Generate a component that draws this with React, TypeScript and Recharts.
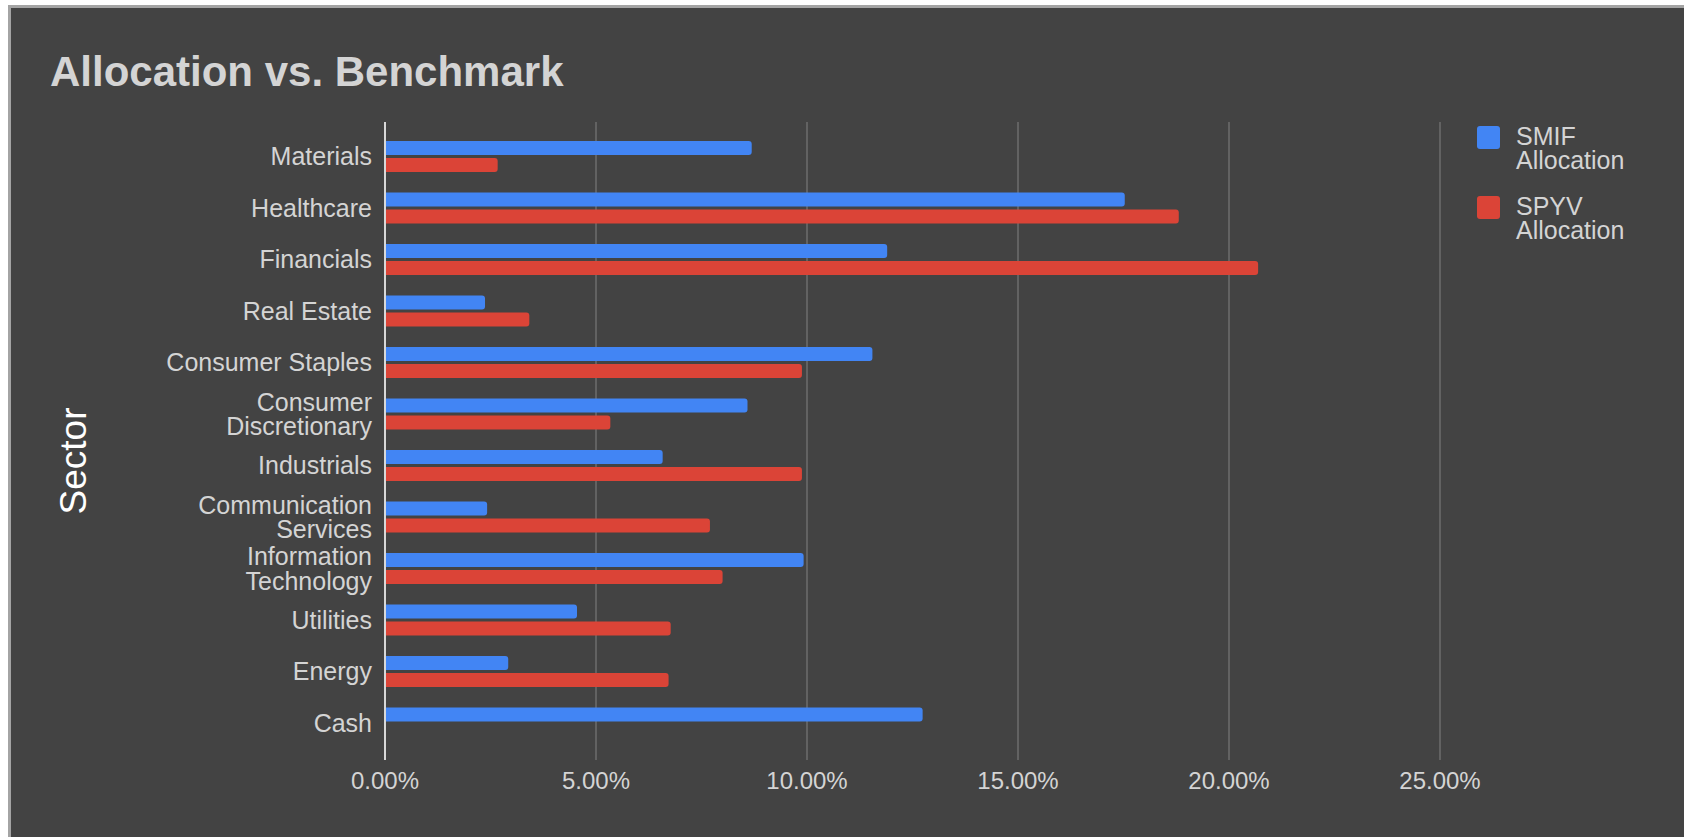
import React from "react";
import {
  BarChart,
  Bar,
  XAxis,
  YAxis,
  CartesianGrid,
  Legend,
} from "recharts";

// sector names, top to bottom
const sectors = [
  "Materials",
  "Healthcare",
  "Financials",
  "Real Estate",
  "Consumer Staples",
  "Consumer Discretionary",
  "Industrials",
  "Communication Services",
  "Information Technology",
  "Utilities",
  "Energy",
  "Cash",
];

// allocations in percent
const smifAllocation = [8.69, 17.53, 11.9, 2.37, 11.55, 8.59, 6.58, 2.42, 9.92, 4.55, 2.92, 12.74];
const spyvAllocation = [2.67, 18.81, 20.69, 3.42, 9.88, 5.34, 9.88, 7.7, 8.0, 6.77, 6.72, 0];

const xTicks = [0, 5, 10, 15, 20, 25];

const data = sectors.map((s, i) => ({
  sector: s,
  smif: smifAllocation[i],
  spyv: spyvAllocation[i],
}));

const FONT = "'Liberation Sans', Arial, sans-serif";
const BG = "#434343";
const TEXT = "#d4d4d4";

const SectorTick = (props: any) => {
  const { x, y, payload } = props;
  const label: string = payload.value;
  // long labels wrap onto two lines like the original
  const lines = label.length > 16 ? label.split(" ") : [label];
  const lh = 24.5;
  const base = y + 8.5 - ((lines.length - 1) * lh) / 2;
  return (
    <text
      x={x}
      y={base}
      textAnchor="end"
      fill={TEXT}
      fontSize={25}
      fontFamily={FONT}
    >
      {lines.map((l, i) => (
        <tspan key={i} x={x} y={base + i * lh}>
          {l}
        </tspan>
      ))}
    </text>
  );
};

const LegendBox = (props: any) => {
  const { payload } = props;
  return (
    <div style={{ fontFamily: FONT }}>
      {(payload || []).map((p: any, i: number) => (
        <div
          key={i}
          style={{ display: "flex", alignItems: "flex-start", height: 70 }}
        >
          <div
            style={{
              width: 23,
              height: 23,
              marginTop: 2,
              borderRadius: 3,
              background: p.color,
              flexShrink: 0,
            }}
          />
          <div
            style={{
              marginLeft: 16,
              width: 130,
              fontSize: 25,
              lineHeight: "24px",
              color: TEXT,
            }}
          >
            {p.value}
          </div>
        </div>
      ))}
    </div>
  );
};

export default function App() {
  return (
    <>
      <div
        style={{
          position: "fixed",
          left: 8,
          top: 5,
          width: 1676,
          height: 832,
          background: BG,
          borderTop: "3px solid #a4a4a4",
          borderLeft: "3px solid #a4a4a4",
          boxSizing: "border-box",
        }}
      />
      <div style={{ position: "fixed", left: 0, top: 0, width: 1684, height: 837 }}>
        <svg
          width={1684}
          height={837}
          style={{ position: "absolute", left: 0, top: 0 }}
        >
          <text
            x={50}
            y={86}
            fontSize={42}
            fontWeight="bold"
            fontFamily={FONT}
            fill={TEXT}
          >
            Allocation vs. Benchmark
          </text>
          <text
            transform="translate(86, 461) rotate(-90)"
            textAnchor="middle"
            fontSize={37}
            fontFamily={FONT}
            fill="#ffffff"
          >
            Sector
          </text>
        </svg>
        <div style={{ position: "absolute", left: 0, top: 0 }}>
          <BarChart
            width={1684}
            height={837}
            data={data}
            layout="vertical"
            margin={{ top: 122, right: 244, bottom: 37, left: 0 }}
            barSize={14}
            barGap={3}
          >
            <CartesianGrid horizontal={false} stroke="#6c6c6c" strokeWidth={1.5} />
            <XAxis
              type="number"
              domain={[0, 25]}
              ticks={xTicks}
              tickFormatter={(v: number) => v.toFixed(2) + "%"}
              axisLine={false}
              tickLine={false}
              tickSize={0}
              tickMargin={12}
              height={40}
              tick={{ fill: TEXT, fontSize: 24, fontFamily: FONT }}
            />
            <YAxis
              type="category"
              dataKey="sector"
              width={385}
              interval={0}
              axisLine={{ stroke: "#d8d8d8", strokeWidth: 2 }}
              tickLine={false}
              tickSize={0}
              tickMargin={13}
              padding={{ top: 9, bottom: 11 }}
              tick={<SectorTick />}
            />
            <Legend
              layout="vertical"
              align="center"
              verticalAlign="middle"
              content={<LegendBox />}
              wrapperStyle={{ position: "absolute", left: 1477, top: 123.5, width: 180 }}
            />
            <Bar
              dataKey="smif"
              name="SMIF Allocation"
              fill="#4285f4"
              radius={[0, 3, 3, 0]}
              isAnimationActive={false}
            />
            <Bar
              dataKey="spyv"
              name="SPYV Allocation"
              fill="#db4437"
              radius={[0, 3, 3, 0]}
              isAnimationActive={false}
            />
          </BarChart>
        </div>
      </div>
    </>
  );
}
